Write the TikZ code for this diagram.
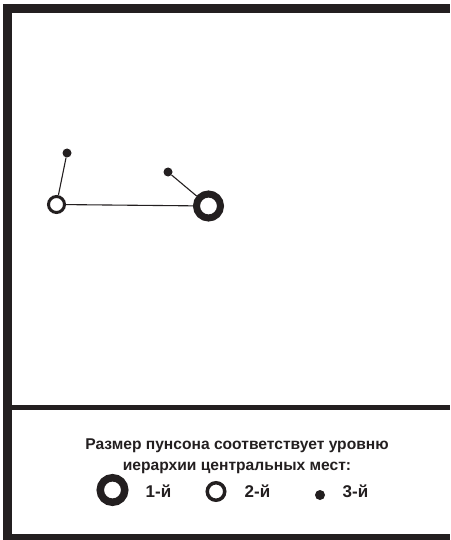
\documentclass[tikz,border=0pt]{standalone}
\usepackage{fontspec}
\setmainfont{Liberation Sans}
\definecolor{ink}{HTML}{231F20}

\begin{document}
\begin{tikzpicture}[x=1pt, y=-1pt,
    first/.style={circle, draw=ink, line width=7pt, minimum size=24pt, inner sep=0pt},
    second/.style={circle, draw=ink, fill=white, line width=3pt, minimum size=16pt, inner sep=0pt},
    third/.style={circle, fill=ink, minimum size=9pt, inner sep=0pt},
    link/.style={draw=ink, line width=1.1pt},
    lbl/.style={font=\bfseries\fontsize{17}{18}\selectfont, text=ink}]
    \useasboundingbox (0,0) rectangle (450,540);
    % frame and divider
    \fill[ink] (3,4) rectangle (450,13);
    \fill[ink] (3,4) rectangle (12,540);
    \fill[ink] (3,534) rectangle (450,540);
    \fill[ink] (12,405.2) rectangle (450,409.8);
    % places
    \node[third] (a) at (67,153) {};
    \node[third] (b) at (168,172) {};
    \node[second] (c) at (56.5,204.5) {};
    \node[first] (d) at (208.5,206) {};
    \draw[link] (a) -- (c);
    \draw[link] (b) -- (d);
    \draw[link] (c) -- (d);
    % legend
    \node[font=\bfseries\fontsize{15.6}{21}\selectfont, text=ink, align=center] (title) at (237,456)
        {Размер пунсона соответствует уровню\\иерархии центральных мест:};
    \node[first, minimum size=24.5pt, line width=7.5pt] (k1) at (112.5,490) {};
    \node[lbl] (l1) at (158.5,491) {1-й};
    \node[second, minimum size=17.5pt, line width=3.5pt] (k2) at (216,491.5) {};
    \node[lbl] (l2) at (257.5,491) {2-й};
    \node[third, minimum size=10pt] (k3) at (320,495) {};
    \node[lbl] (l3) at (355.5,491) {3-й};
\end{tikzpicture}
\end{document}
